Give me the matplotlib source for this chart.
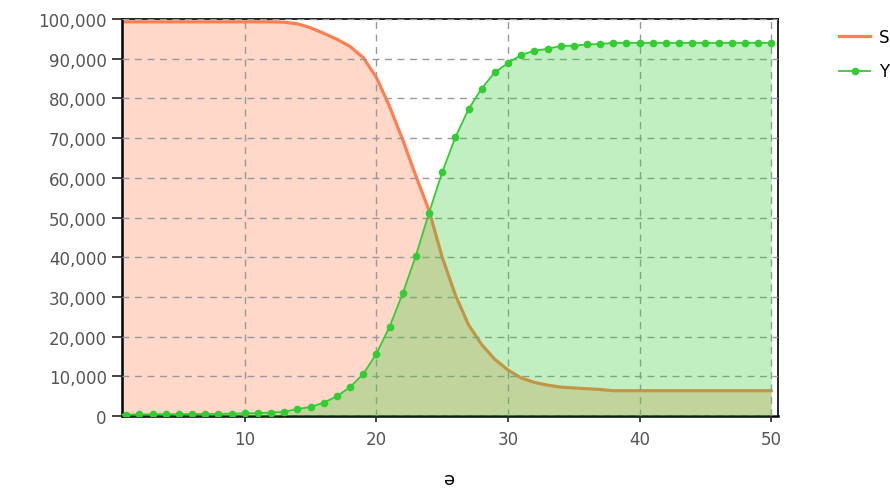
import numpy as np
import matplotlib
matplotlib.use("Agg")
from matplotlib import pyplot as plt
from matplotlib.ticker import StrMethodFormatter, MultipleLocator

# values (day 0 sits just left of the visible range)
days = list(range(0, 51))
s_values = [99300] * 12 + [
    99300, 99200, 98800, 97800, 96400, 94900, 93100, 90300, 85300,
    78000, 69600, 60500, 51800, 40000, 30500, 23000, 18000, 14300, 11600,
    9600, 8500, 7800, 7300, 7100, 6900, 6700, 6400, 6400, 6400,
    6400, 6400, 6400, 6400, 6400, 6400, 6400, 6400, 6400, 6400]
y_values = [400, 400, 420, 450, 480, 500, 520, 550, 580, 620, 680,
            750, 900, 1100, 1800, 2300, 3400, 5000, 7300, 10600, 15700,
            22500, 30900, 40400, 51200, 61400, 70200, 77300, 82500, 86600, 88900,
            91000, 92000, 92500, 93200, 93300, 93600, 93700, 94000, 94000, 94000,
            94000, 94000, 94000, 94000, 94000, 94000, 94000, 94000, 94000, 94000]
series_names = ["S", "Y"]

s_color = "#ff7f50"
y_color = "#33cc33"

fig = plt.figure(figsize=(8.9, 4.89), dpi=100)
ax = fig.add_axes([0.137, 0.147, 0.737, 0.812])

ax.fill_between(days, s_values, color=s_color, alpha=0.3, linewidth=0, zorder=1)
s_line, = ax.plot(days, s_values, color=s_color, linewidth=2.3, label=series_names[0], zorder=2)
ax.fill_between(days, y_values, color=y_color, alpha=0.3, linewidth=0, zorder=3)
y_line, = ax.plot(days, y_values, color=y_color, linewidth=1.3, marker="o",
                  markersize=4.5, label=series_names[1], zorder=4)

ax.set_xlim(0.67, 50.5)
ax.set_ylim(0, 100000)
ax.xaxis.set_major_locator(MultipleLocator(10))
ax.yaxis.set_major_locator(MultipleLocator(10000))
ax.yaxis.set_major_formatter(StrMethodFormatter("{x:,.0f}"))

ax.grid(True, color="#999999", linestyle=(0, (5, 4)), linewidth=1, zorder=5)
ax.set_axisbelow(False)

for side in ["left", "bottom"]:
    ax.spines[side].set_linewidth(1.8)
for side in ["top", "right"]:
    ax.spines[side].set_linewidth(1.2)
ax.tick_params(axis="y", length=7, width=1.2, labelsize=12, colors="#222222", labelcolor="#555555", pad=4)
ax.tick_params(axis="x", length=4, width=1.2, labelsize=12, colors="#222222", labelcolor="#555555", pad=6)

ax.set_xlabel("ə", fontsize=13, labelpad=16)

fig.legend(handles=[s_line, y_line], loc="upper left", bbox_to_anchor=(0.935, 0.955),
           frameon=False, fontsize=12, handlelength=1.9, labelspacing=1.0,
           handletextpad=0.5, borderaxespad=0)

fig.savefig("out.png", dpi=100)
